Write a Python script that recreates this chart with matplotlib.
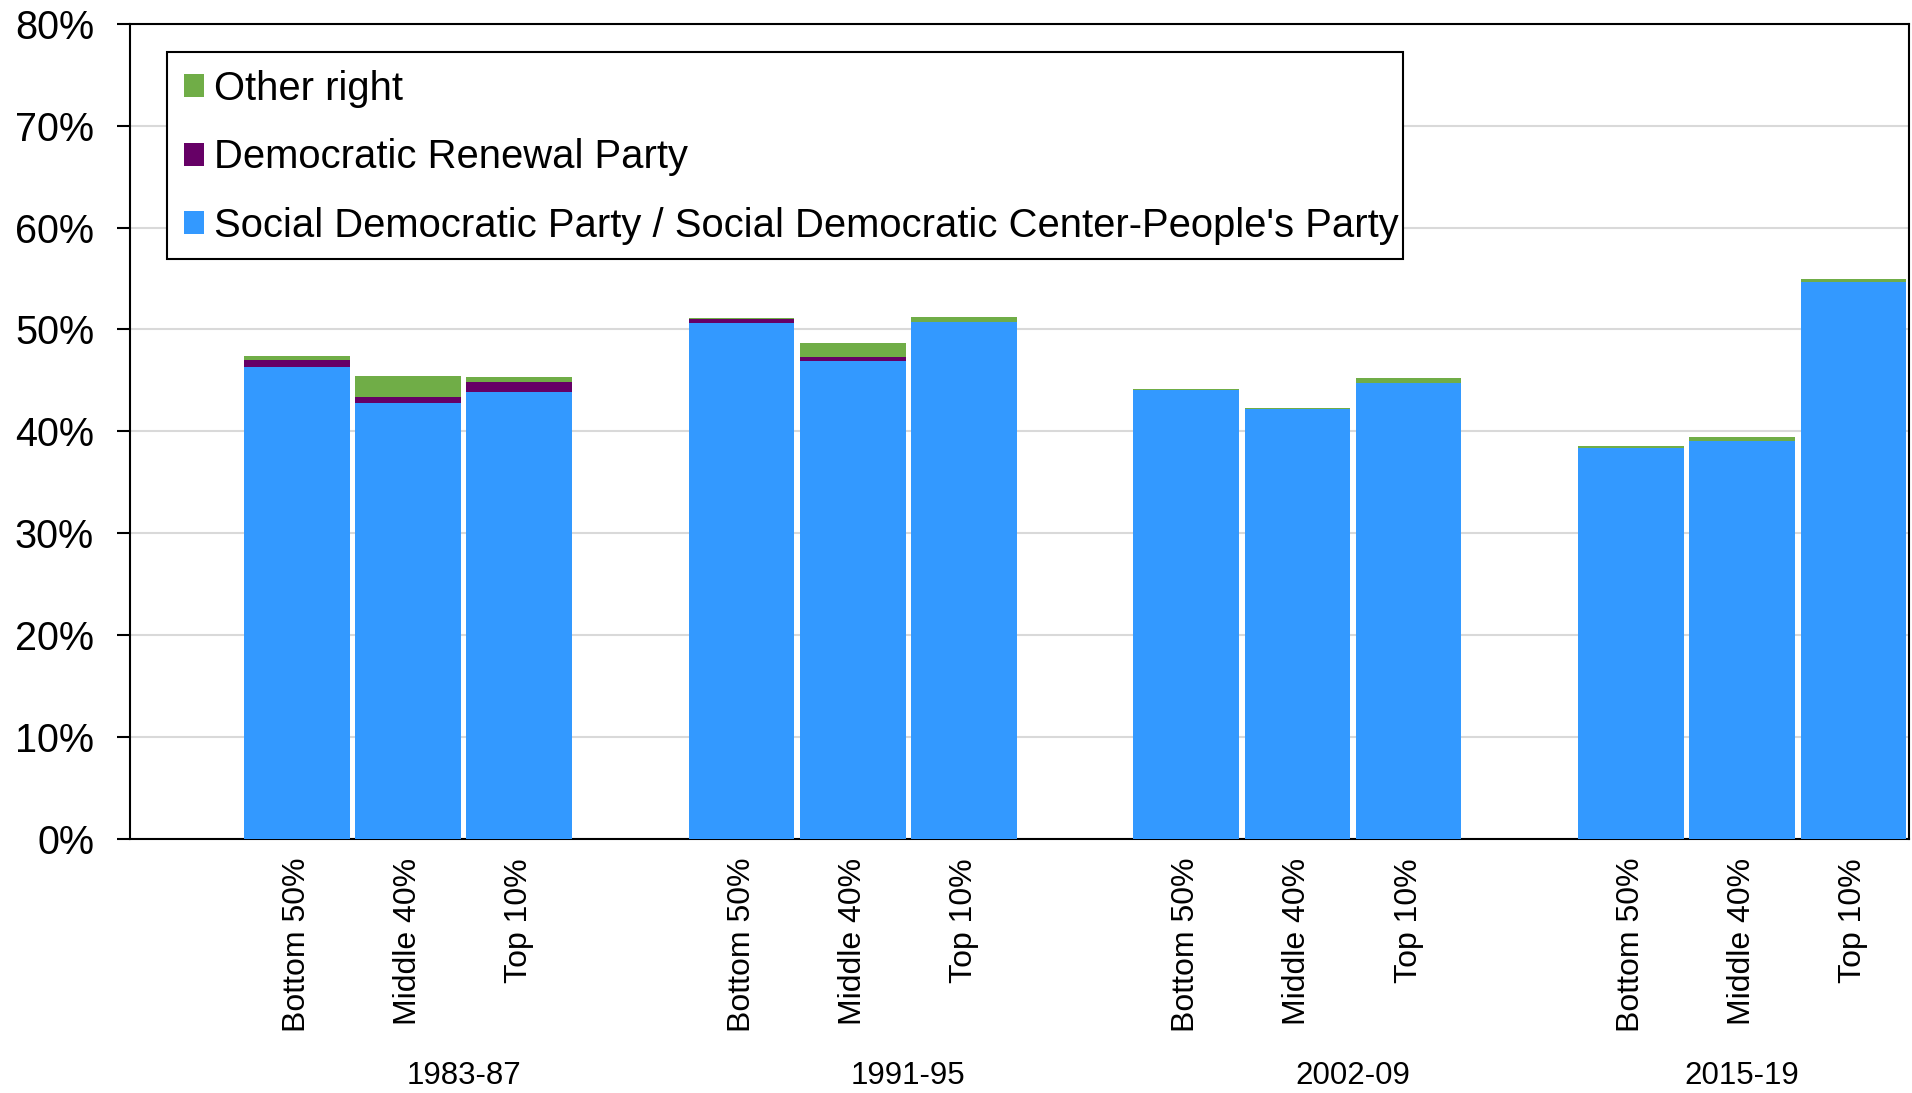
import matplotlib
matplotlib.use("Agg")
import matplotlib.pyplot as plt
from matplotlib.patches import Rectangle
import numpy as np

plt.rcParams['font.family'] = ['Liberation Sans', 'DejaVu Sans']

periods = ["1983-87", "1991-95", "2002-09", "2015-19"]
groups = ["Bottom 50%", "Middle 40%", "Top 10%"]

# values in % (order: period-major, group-minor)
social_dem = [46.3, 42.75, 43.9, 50.6, 46.9, 50.7, 44.03, 42.16, 44.77, 38.39, 39.02, 54.7]
dem_renewal = [0.7, 0.6, 0.9, 0.4, 0.4, 0.05, 0.0, 0.0, 0.0, 0.0, 0.0, 0.0]
other_right = [0.35, 2.1, 0.5, 0.15, 1.35, 0.45, 0.1, 0.1, 0.47, 0.2, 0.42, 0.3]

series_names = ["Social Democratic Party / Social Democratic Center-People's Party",
                "Democratic Renewal Party", "Other right"]
colors = ["#3399ff", "#660066", "#70ad47"]

W, H = 1912, 1093
fig = plt.figure(figsize=(W / 100, H / 100), dpi=100)
ax = fig.add_axes([130 / W, 1 - 838.5 / H, (1909 - 130) / W, (838.5 - 24) / H])

x = []
for p in range(len(periods)):
    for g in range(len(groups)):
        x.append(p * 4 + g)
x = np.array(x, dtype=float)

sd = np.array(social_dem)
dr = np.array(dem_renewal)
ot = np.array(other_right)
bw = 0.95
h1 = ax.bar(x, sd, width=bw, color=colors[0], edgecolor='none', zorder=3)
h2 = ax.bar(x, dr, width=bw, bottom=sd, color=colors[1], edgecolor='none', zorder=3)
h3 = ax.bar(x, ot, width=bw, bottom=sd + dr, color=colors[2], edgecolor='none', zorder=3)

ax.set_xlim(-1.5, 14.5)
ax.set_ylim(0, 80)
ax.set_yticks(np.arange(0, 81, 10))
ax.set_yticklabels([f"{v}%" for v in range(0, 81, 10)], fontsize=28.5)
ax.yaxis.grid(True, color='#d9d9d9', linewidth=1.5, zorder=0)
ax.set_axisbelow(True)
ax.tick_params(axis='y', direction='out', length=9.4, width=1.5, pad=16.5)
ax.tick_params(axis='x', length=0, pad=14)
ax.set_xticks(x)
ax.set_xticklabels(groups * len(periods), rotation=90, fontsize=23, va='top')
for s in ax.spines.values():
    s.set_linewidth(1.5)
    s.set_color('black')

year_pos = [1.5, 5.5, 9.5, 13.0]
for xp, name in zip(year_pos, periods):
    ax.text(xp, -23.3, name, ha='center', va='center', fontsize=22.5,
            transform=ax.transData, clip_on=False)

box = Rectangle((167 / W, 1 - 258.5 / H), (1403 - 167) / W, (258.5 - 52) / H,
                transform=fig.transFigure, facecolor='white',
                edgecolor='black', linewidth=1.5, zorder=5, clip_on=False)
ax.add_patch(box)

leg = ax.legend([h3, h2, h1], series_names[::-1], loc='upper left',
                bbox_to_anchor=(184 / W, 1 - 70 / H), bbox_transform=fig.transFigure,
                fontsize=28.8, frameon=False,
                handlelength=0.5, handleheight=0.5, handletextpad=0.25,
                labelspacing=0.76, borderpad=0, borderaxespad=0)
leg.set_zorder(6)

fig.savefig("out.png", dpi=100, facecolor='white')
